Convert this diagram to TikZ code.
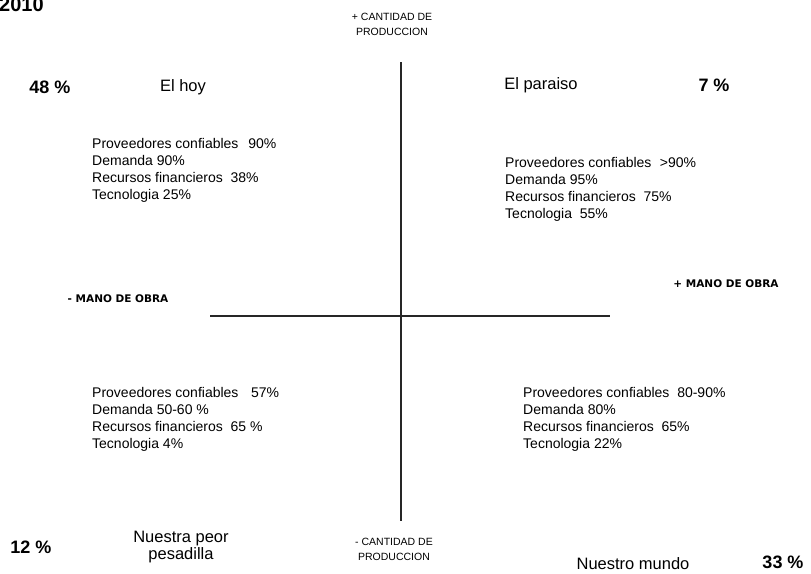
\documentclass[tikz,border=0pt]{standalone}
\usepackage{fontspec}
\setmainfont{Liberation Sans}
\newfontfamily\verdana{DejaVu Sans}

\begin{document}
\begin{tikzpicture}[x=1pt,y=-1pt,
    lista/.style={anchor=north west,align=left,inner sep=0pt,
        font={\fontsize{14}{17}\selectfont}},
    titulo/.style={inner sep=0pt,align=center,font={\fontsize{16.5}{17}\selectfont}},
    porcentaje/.style={inner sep=0pt,font={\fontsize{18}{20}\selectfont\bfseries}},
    eje/.style={inner sep=0pt,align=center,font={\fontsize{10.5}{15}\selectfont}},
    mano/.style={inner sep=0pt,font={\verdana\fontsize{10.5}{13}\selectfont\bfseries}}]
\useasboundingbox (0,0) rectangle (811,573);

\node[anchor=base west,inner sep=0pt,font={\fontsize{20}{22}\selectfont\bfseries}] (anio) at (-1,11) {2010};

% ejes
\coordinate (arriba) at (401,62);
\coordinate (abajo) at (401,521);
\coordinate (izq) at (210,316);
\coordinate (der) at (610,316);
\draw[line width=1.2pt,black!85] (arriba)--(abajo);
\draw[line width=1.2pt,black!85] (izq)--(der);

\node[eje] (prodmas) at (392,24) {+ CANTIDAD DE\\PRODUCCION};
\node[eje] (prodmenos) at (394,549) {- CANTIDAD DE\\PRODUCCION};
\node[mano] (manomenos) at (118,299) {- MANO DE OBRA};
\node[mano] (manomas) at (726,284) {+ MANO DE OBRA};

% cuadrantes
\node[porcentaje] (p48) at (50,87) {48 \%};
\node[titulo] (hoy) at (183,87) {El hoy};
\node[titulo] (paraiso) at (541,85) {El paraiso};
\node[porcentaje] (p7) at (714,85) {7 \%};
\node[porcentaje] (p12) at (31,547) {12 \%};
\node[titulo] (pesadilla) at (181,547) {Nuestra peor\\pesadilla};
\node[titulo] (mundo) at (633,564) {Nuestro mundo};
\node[porcentaje] (p33) at (783,562) {33 \%};

\node[lista] (listahoy) at (92,138) {Proveedores confiables\hspace{0.7em}90\%\\Demanda 90\%\\Recursos financieros\ \ 38\%\\Tecnologia 25\%};
\node[lista] (listaparaiso) at (505,157) {Proveedores confiables\hspace{0.6em}>90\%\\Demanda 95\%\\Recursos financieros\ \ 75\%\\Tecnologia\ \ 55\%};
\node[lista] (listapesadilla) at (92,387) {Proveedores confiables\hspace{0.9em}57\%\\Demanda 50-60 \%\\Recursos financieros\ \ 65 \%\\Tecnologia 4\%};
\node[lista] (listamundo) at (523,387) {Proveedores confiables\ \ 80-90\%\\Demanda 80\%\\Recursos financieros\ \ 65\%\\Tecnologia 22\%};

\end{tikzpicture}
\end{document}
